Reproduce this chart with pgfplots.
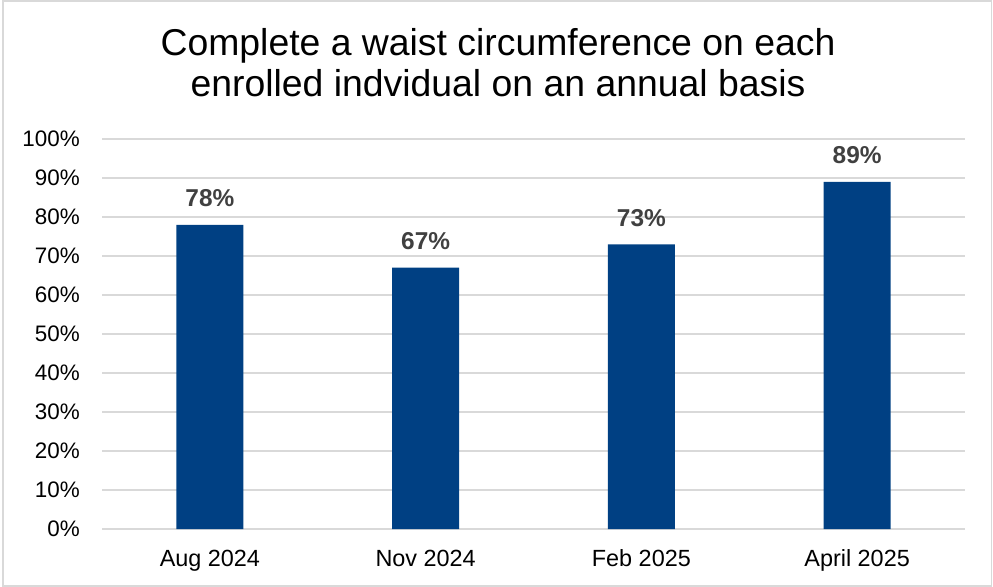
\documentclass[border=0pt]{standalone}
\usepackage{fontspec}
\setmainfont{Liberation Sans}
\usepackage{pgfplots}
\pgfplotsset{compat=1.18}
\definecolor{barblue}{RGB}{0,64,131}
\definecolor{gridgray}{RGB}{217,217,217}
\definecolor{lblgray}{RGB}{64,64,64}
\begin{document}
\begin{tikzpicture}
\useasboundingbox (0,0) rectangle (993bp,587bp);
\draw[gridgray, line width=1.2bp] (3bp,1bp) rectangle (991.5bp,586bp);
\node[align=center, font=\fontsize{37.5}{42}\selectfont, anchor=base] at (498bp,490bp) {Complete a waist circumference on each\\enrolled indvidual on an annual basis};
\begin{axis}[
  at={(102bp,58bp)}, anchor=south west,
  scale only axis, width=863bp, height=390bp,
  xmin=-0.5, xmax=3.5, ymin=0, ymax=100,
  xtick={0,1,2,3},
  xticklabels={Aug 2024,Nov 2024,Feb 2025,April 2025},
  ytick={0,10,...,100},
  yticklabels={0\%,10\%,20\%,30\%,40\%,50\%,60\%,70\%,80\%,90\%,100\%},
  axis line style={draw=none},
  major tick length=0pt,
  ymajorgrids, major grid style={gridgray, line width=1.3bp},
  yticklabel style={font=\fontsize{22.5}{26}\selectfont, text=black, anchor=east, inner sep=0pt, xshift=-22bp},
  xticklabel style={font=\fontsize{23.5}{27}\selectfont, text=black, anchor=base, inner sep=0pt, yshift=-37bp},
  clip=false,
]
\addplot[ybar, bar width=67bp, fill=barblue, draw=none,
  nodes near coords={\pgfmathprintnumber{\pgfplotspointmeta}\%},
  every node near coord/.append style={font=\fontsize{24.5}{28}\selectfont\bfseries, text=lblgray, anchor=base, inner sep=0pt, yshift=18bp, /pgf/number format/assume math mode=true}]
  coordinates {(0,78) (1,67) (2,73) (3,89)};
\end{axis}
\end{tikzpicture}
\end{document}
